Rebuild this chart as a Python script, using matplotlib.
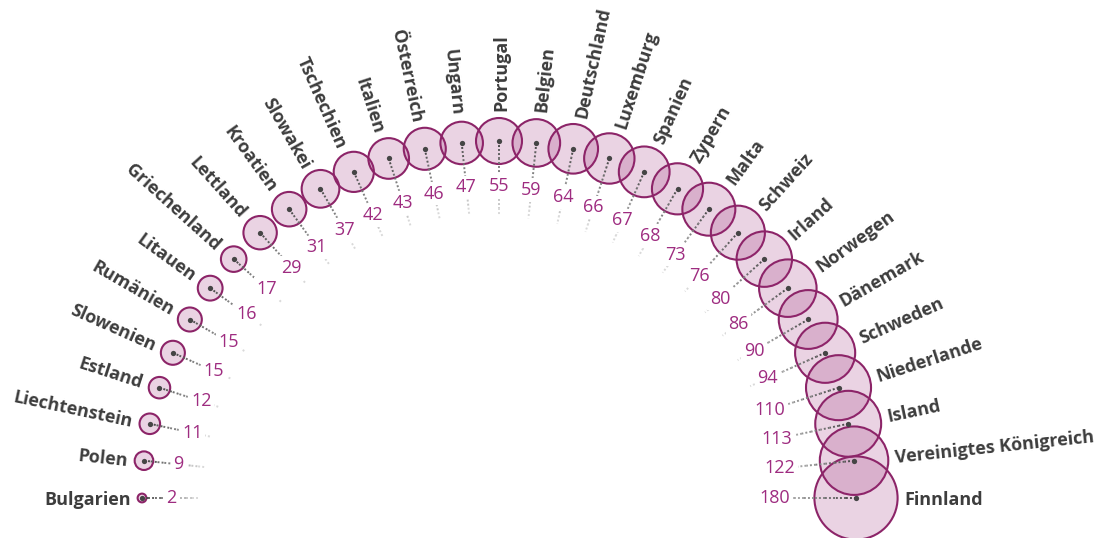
import numpy as np
import matplotlib.pyplot as plt
from matplotlib.patches import Circle
from matplotlib.collections import LineCollection

plt.rcParams['font.family'] = ['Open Sans', 'DejaVu Sans']

# data, in the order the bubbles run along the arc (left to right)
countries = [
    "Bulgarien", "Polen", "Liechtenstein", "Estland", "Slowenien", "Rumänien",
    "Litauen", "Griechenland", "Lettland", "Kroatien", "Slowakei", "Tschechien",
    "Italien", "Österreich", "Ungarn", "Portugal", "Belgien", "Deutschland",
    "Luxemburg", "Spanien", "Zypern", "Malta", "Schweiz", "Irland", "Norwegen",
    "Dänemark", "Schweden", "Niederlande", "Island", "Vereinigtes Königreich",
    "Finnland",
]
values = [2, 9, 11, 12, 15, 15, 16, 17, 29, 31, 37, 42, 43, 46, 47, 55, 59,
          64, 66, 67, 68, 73, 76, 80, 86, 90, 94, 110, 113, 122, 180]

# layout (pixels)
W, H = 1098, 538
CX, CY, R = 499, 498, 357
K = 3.1  # bubble radius = K * sqrt(value)

LABEL_COLOR = "#3d3d3d"
VALUE_COLOR = "#9e2c80"
EDGE_COLOR = "#8c2468"
FILL_COLOR = (0.6, 0.15, 0.45, 0.2)

fig = plt.figure(figsize=(W / 100, H / 100), dpi=100)
ax = fig.add_axes([0, 0, 1, 1])
ax.set_xlim(0, W)
ax.set_ylim(H, 0)
ax.axis("off")

angles = np.linspace(np.pi, 0, len(countries))

for name, val, a in zip(countries, values, angles):
    ux, uy = np.cos(a), -np.sin(a)  # outward direction on screen
    x, y = CX + R * ux, CY + R * uy
    r = K * np.sqrt(val)

    ax.add_patch(Circle((x, y), r, facecolor=FILL_COLOR, edgecolor=EDGE_COLOR,
                        lw=1.5, zorder=2))

    # dotted leader towards the centre, fading out
    length = r + 52
    steps = np.linspace(0, length, 10)
    segs = [[(x - ux * s0, y - uy * s0), (x - ux * s1, y - uy * s1)]
            for s0, s1 in zip(steps[:-1], steps[1:])]
    greys = np.linspace(0.3, 0.85, len(segs))
    lc = LineCollection(segs, colors=[(g, g, g) for g in greys], lw=1.4,
                        linestyles=[(0, (1, 1.1))], zorder=3)
    ax.add_collection(lc)
    ax.plot(x, y, "o", ms=3.8, color="#454545", mec="none", zorder=5)

    # value inside the arc, pushed further in for wider numbers
    d = r + 18 + abs(ux) * 7.3 * len(str(val)) + abs(uy) * 4
    ax.text(x - ux * d, y - uy * d, str(val), color=VALUE_COLOR, fontsize=13,
            ha="center", va="center", zorder=4,
            bbox=dict(boxstyle="square,pad=0.15", fc="white", ec="none"))

    # country name outside the arc
    g = r + 7
    deg = np.degrees(a)
    if deg > 90.5:
        rot, ha = deg - 180, "right"
    else:
        rot, ha = deg, "left"
    ax.text(x + ux * g, y + uy * g, name, color=LABEL_COLOR, fontsize=13,
            fontweight="bold", rotation=rot, rotation_mode="anchor",
            ha=ha, va="center_baseline", zorder=6)

fig.savefig("out.png", dpi=100)
